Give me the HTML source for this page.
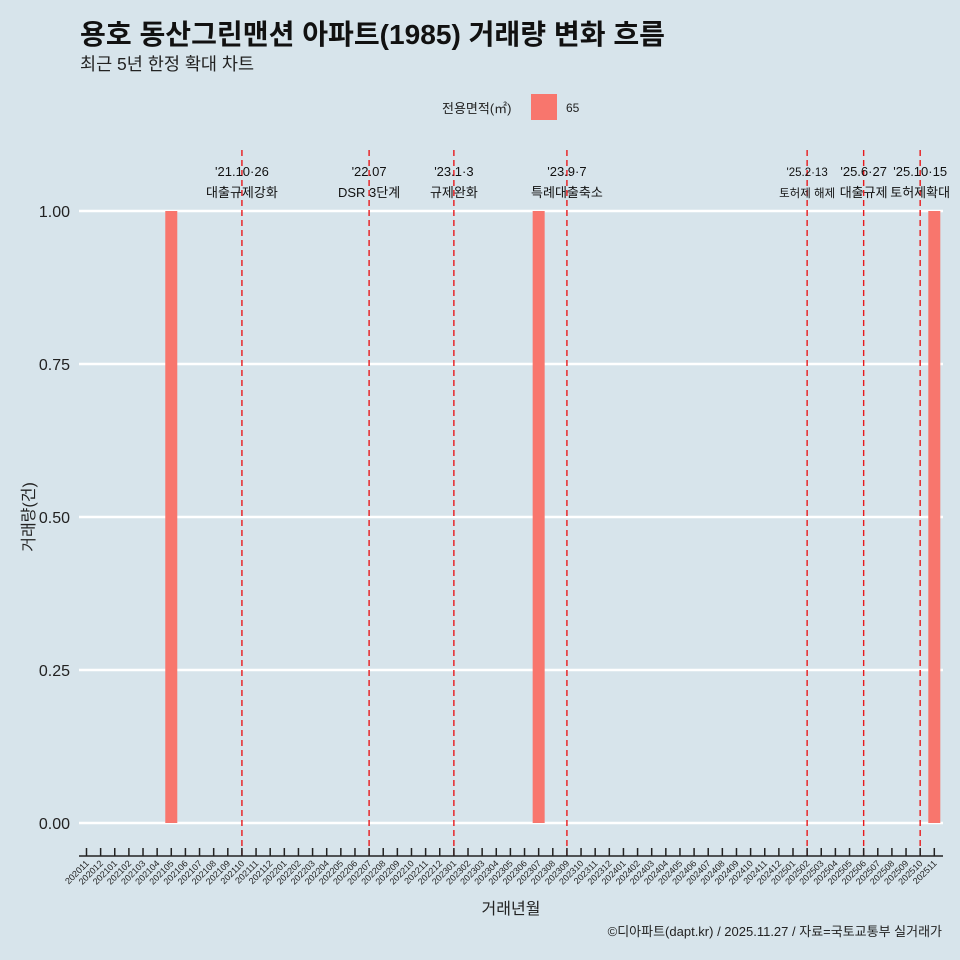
<!DOCTYPE html>
<html><head><meta charset="utf-8"><style>
html,body{margin:0;background:#d7e4eb;width:960px;height:960px;overflow:hidden;}
svg{display:block;}
svg text{font-family:"Liberation Sans","Noto Sans CJK KR",sans-serif;}
</style></head><body>
<svg id="c" width="960" height="960" xmlns="http://www.w3.org/2000/svg">
<rect width="960" height="960" fill="#d7e4eb"/>
<text x="80" y="44" font-size="28" font-weight="bold" fill="#111" textLength="585" lengthAdjust="spacingAndGlyphs">용호 동산그린맨션 아파트(1985) 거래량 변화 흐름</text>
<text x="80" y="70" font-size="17.5" fill="#222">최근 5년 한정 확대 차트</text>
<g>
<text x="442" y="113" font-size="13" fill="#222">전용면적(㎡)</text>
<rect x="531" y="94" width="26" height="26" fill="#f8766d"/>
<text x="566" y="112" font-size="12" fill="#222">65</text>
</g>
<g id="grid"></g><g id="bars"></g><g id="ann"></g><g id="xaxis"></g>
<text transform="translate(34,517) rotate(-90)" text-anchor="middle" font-size="16" fill="#222">거래량(건)</text>
<text x="511" y="914" text-anchor="middle" font-size="16" fill="#222">거래년월</text>
<text x="942" y="936" text-anchor="end" font-size="13" fill="#222">©디아파트(dapt.kr) / 2025.11.27 / 자료=국토교통부 실거래가</text>
</svg>
<script>
const yTicks=[0,0.25,0.5,0.75,1.0];
const yTickLabels=["0.00","0.25","0.50","0.75","1.00"];
const barMonths=["202105","202307","202511"];
const barValues=[1,1,1];
const annMonths=["202110","202207","202301","202309","202502","202506","202510"];
const annDates=["'21.10·26","'22.07","'23.1·3","'23.9·7","'25.2·13","'25.6·27","'25.10·15"];
const annTexts=["대출규제강화","DSR 3단계","규제완화","특례대출축소","토허제 해제","대출규제","토허제확대"];
const months=[];
for(let y=2020,m=11;months.length<61;){months.push(""+y+(m<10?"0"+m:m));m++;if(m>12){m=1;y++;}}
const NS="http://www.w3.org/2000/svg";
function X(mo){return 86.5+months.indexOf(mo)*14.13;}
function Y(v){return 823-v*612;}
function el(t,a,p,txt){const e=document.createElementNS(NS,t);for(const k in a)e.setAttribute(k,a[k]);if(txt!==undefined)e.textContent=txt;document.getElementById(p).appendChild(e);return e;}
yTicks.forEach((v,i)=>{
 const l=el("line",{x1:79,x2:943,y1:Y(v),y2:Y(v),stroke:"#fff","stroke-width":2.5},"grid");
 
 
 const t=el("text",{x:70,y:Y(v)+6,"text-anchor":"end","font-size":16,fill:"#222"},"grid",yTickLabels[i]);
 
 
});
barMonths.forEach((mo,i)=>{
 const r=el("rect",{x:X(mo)-6,y:Y(barValues[i]),width:12,height:Y(0)-Y(barValues[i]),fill:"#f8766d"},"bars");
 
 
});
annMonths.forEach((mo,i)=>{
 const x=X(mo);
 const l=el("line",{x1:x,x2:x,y1:150,y2:856,stroke:"#e8191c","stroke-width":1.4,"stroke-dasharray":"6,4"},"ann");
 
 
 const fs=(i==4)?11.5:13;
 const a=el("text",{x:x,y:176,"text-anchor":"middle","font-size":fs,fill:"#111"},"ann",annDates[i]);
 
 
 const b=el("text",{x:x,y:197,"text-anchor":"middle","font-size":fs,fill:"#111"},"ann",annTexts[i]);
 
 
});
const ax=el("line",{x1:79,x2:943,y1:856,y2:856,stroke:"#222","stroke-width":1.5},"xaxis");


months.forEach(mo=>{
 const x=X(mo);
 const t=el("line",{x1:x,x2:x,y1:848,y2:856,stroke:"#222","stroke-width":1.5},"xaxis");
 
 
 const lb=el("text",{transform:`translate(${x+3},864) rotate(-45)`,"text-anchor":"end","font-size":9,fill:"#222"},"xaxis",mo);
 
 
});
</script>
</body></html>
